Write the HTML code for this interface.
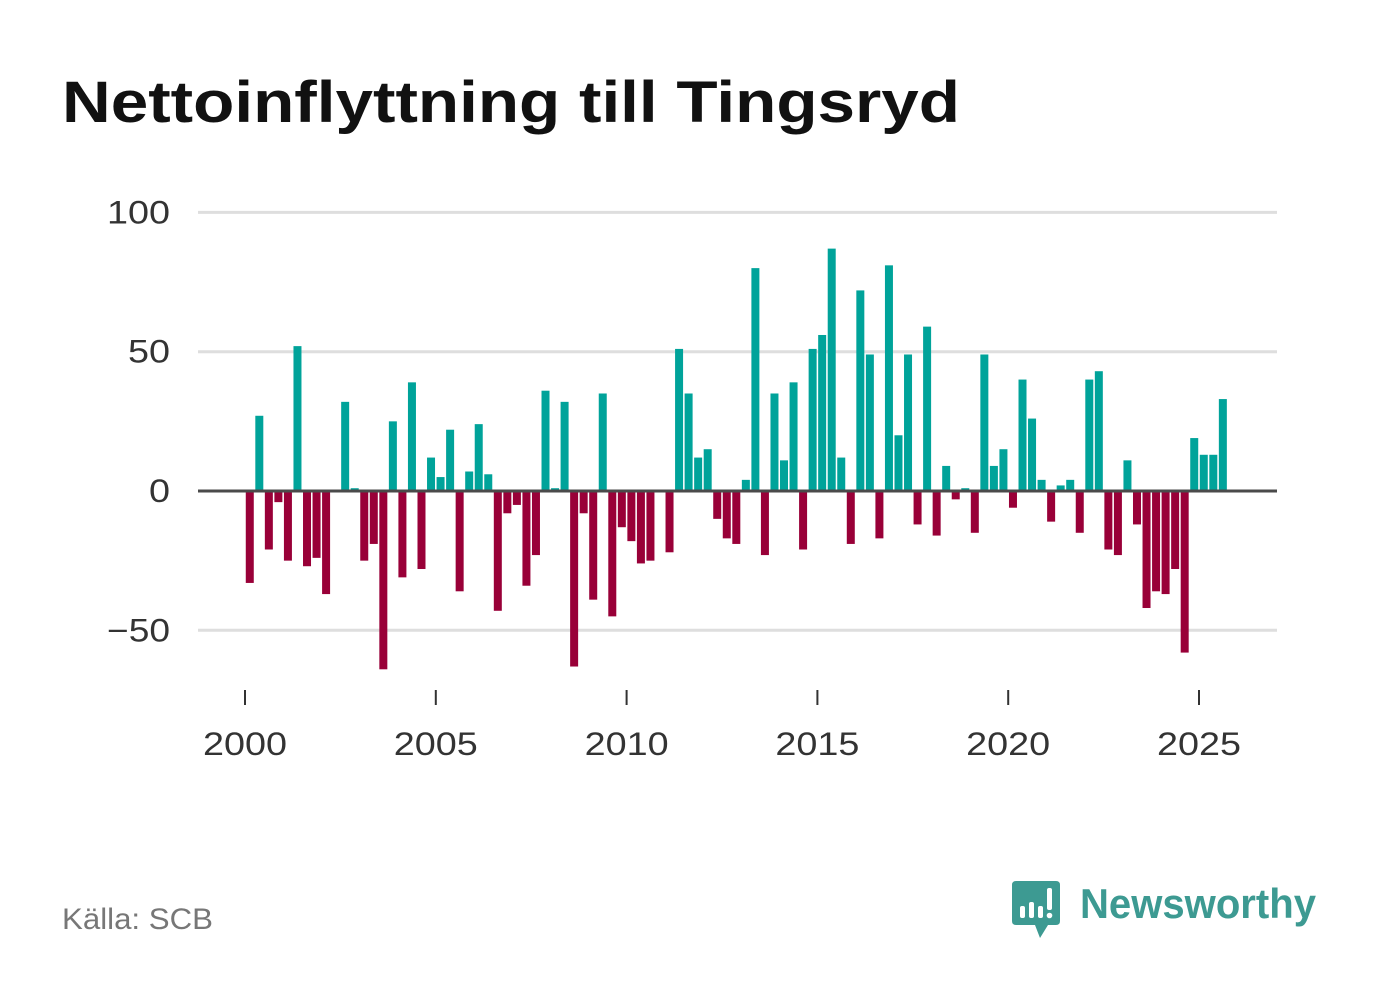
<!DOCTYPE html>
<html><head><meta charset="utf-8"><style>
html,body{margin:0;padding:0;background:#fff;}
svg{display:block;font-family:"Liberation Sans",sans-serif;}
</style></head><body>
<svg id="chart" width="1382" height="999" viewBox="0 0 1382 999">
<text x="62" y="122" font-size="58" font-weight="bold" fill="#111" textLength="898" lengthAdjust="spacingAndGlyphs">Nettoinflyttning till Tingsryd</text>
<g id="grid"></g>
<g id="bars"></g>
<g id="axes"></g>
<text x="62" y="929" font-size="30" fill="#777" textLength="151" lengthAdjust="spacingAndGlyphs">Källa: SCB</text>
<g>
<path d="M1016 881 H1056 Q1060 881 1060 885 V921 Q1060 925 1056 925 H1048 L1040 938 L1035 925 H1016 Q1012 925 1012 921 V885 Q1012 881 1016 881 Z" fill="#3d9a92"/>
<rect x="1020" y="906" width="5" height="12" rx="2" fill="#fff"/>
<rect x="1029" y="902" width="5" height="16" rx="2" fill="#fff"/>
<rect x="1038" y="906" width="5" height="12" rx="2" fill="#fff"/>
<rect x="1047" y="888" width="5" height="22" rx="2" fill="#fff"/>
<circle cx="1049.5" cy="915.5" r="2.8" fill="#fff"/>
<text x="1080" y="918" font-size="42" font-weight="bold" fill="#3d9a92" textLength="236" lengthAdjust="spacingAndGlyphs">Newsworthy</text>
</g>
</svg>
<script>
const values = [-33,27,-21,-4,-25,52,-27,-24,-37,0,32,1,-25,-19,-64,25,-31,39,-28,12,5,22,-36,7,24,6,-43,-8,-5,-34,-23,36,1,32,-63,-8,-39,35,-45,-13,-18,-26,-25,0,-22,51,35,12,15,-10,-17,-19,4,80,-23,35,11,39,-21,51,56,87,12,-19,72,49,-17,81,20,49,-12,59,-16,9,-3,1,-15,49,9,15,-6,40,26,4,-11,2,4,-15,40,43,-21,-23,11,-12,-42,-36,-37,-28,-58,19,13,13,33];
const startYear = 2000;
const yTicks = [100, 50, 0, -50];
const yTickLabels = ["100", "50", "0", "\u221250"];
const xTicks = [2000, 2005, 2010, 2015, 2020, 2025];
const NS = "http://www.w3.org/2000/svg";
function xScale(t){ return 245 + (t - 2000) * 38.16; }
function yScale(v){ return 491 - v * 2.786; }
function mk(tag, attrs, parent){ const e = document.createElementNS(NS, tag); for (const k in attrs) e.setAttribute(k, attrs[k]); parent.appendChild(e); return e; }
const grid = document.getElementById('grid'), bars = document.getElementById('bars'), axes = document.getElementById('axes');
yTicks.forEach((t, i) => {
  if (t !== 0) {
    const l = mk('line', {x1:198, x2:1277, y1:yScale(t), y2:yScale(t), stroke:'#dedede', 'stroke-width':3}, grid);
    
    
  }
  const lbl = yTickLabels[i];
  const tx = mk('text', {x:170, y:yScale(t) + 11, 'font-size':32, fill:'#333', 'text-anchor':'end', textLength: lbl.length * 21, lengthAdjust:'spacingAndGlyphs'}, axes);
  tx.textContent = lbl;
  
  
});
values.forEach((v, k) => {
  const cx = xScale(startYear + (k + 0.5) / 4);
  const y0 = yScale(0), y1 = yScale(v);
  const r = mk('rect', {x:cx - 4, y:Math.min(y0, y1), width:8, height:Math.max(Math.abs(y1 - y0), 0.5), fill: v >= 0 ? '#00a39a' : '#990038'}, bars);
  
  
});
const zl = mk('line', {x1:198, x2:1277, y1:yScale(0), y2:yScale(0), stroke:'#4a4a4a', 'stroke-width':3}, axes);


xTicks.forEach(t => {
  const x = xScale(t);
  const tk = mk('line', {x1:x, x2:x, y1:690, y2:705, stroke:'#333', 'stroke-width':2}, axes);
  
  
  const tx = mk('text', {x:x, y:755, 'font-size':32, fill:'#333', 'text-anchor':'middle', textLength:84, lengthAdjust:'spacingAndGlyphs'}, axes);
  tx.textContent = t;
  
  
});
</script>
</body></html>
